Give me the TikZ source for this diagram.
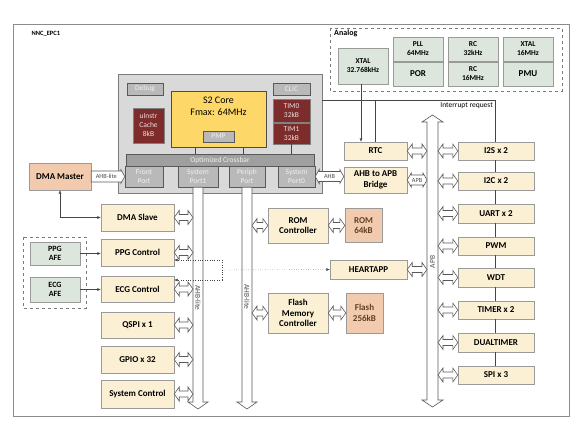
\documentclass[tikz,border=0pt]{standalone}
\usepackage{fontspec}
\setmainfont{Carlito}
\usetikzlibrary{arrows.meta,positioning,calc}
\definecolor{cream}{HTML}{FBF0D4}
\definecolor{peach}{HTML}{F2CBAE}
\definecolor{sage}{HTML}{DDE6DC}
\definecolor{coreyl}{HTML}{FDD868}
\definecolor{brick}{HTML}{7E2B2B}
\definecolor{edge}{HTML}{9A9A9A}
\definecolor{wire}{HTML}{454545}
\begin{document}
\begin{tikzpicture}[x=1pt,y=-1pt,>={Latex[length=3.5pt,width=3pt]},
	sz/.style 2 args={minimum width=#1,minimum height=#2},
	blk/.style={draw=edge,fill=cream,font=\bfseries\fontsize{9}{10.5}\selectfont,align=center,inner sep=0pt},
	mem/.style={blk,fill=peach},
	ana/.style={blk,fill=sage,font=\bfseries\fontsize{7.5}{9}\selectfont},
	gry/.style={draw=gray!70!black,fill=gray!55,text=gray!12,font=\fontsize{7.5}{9}\selectfont,align=center,inner sep=0pt},
	ram/.style={draw=gray,fill=brick,text=white!85!brick,font=\fontsize{7.5}{9}\selectfont,align=center,inner sep=0pt},
	hollow/.style={fill=white,draw=gray!70!black,line width=0.6pt},
	% two headed link, left to right: shaft half width, head half width, head length
	lnk/.style n args={3}{hollow,to path={let \p1=(\tikztostart),\p2=(\tikztotarget) in
		(\x1,\y1) -- (\x1+#3,\y1+#2) -- (\x1+#3,\y1+#1) -- (\x2-#3,\y1+#1) -- (\x2-#3,\y1+#2) -- (\x2,\y1)
		-- (\x2-#3,\y1-#2) -- (\x2-#3,\y1-#1) -- (\x1+#3,\y1-#1) -- (\x1+#3,\y1-#2) -- cycle}},
	lnk/.default={3pt}{7pt}{5pt},
	% one headed link, left to right
	fwd/.style n args={3}{hollow,to path={let \p1=(\tikztostart),\p2=(\tikztotarget) in
		(\x1,\y1+#1) -- (\x2-#3,\y1+#1) -- (\x2-#3,\y1+#2) -- (\x2,\y1)
		-- (\x2-#3,\y1-#2) -- (\x2-#3,\y1-#1) -- (\x1,\y1-#1) -- cycle}},
	% bus going down
	bus/.style n args={3}{hollow,to path={let \p1=(\tikztostart),\p2=(\tikztotarget) in
		(\x1-#1,\y1) -- (\x1-#1,\y2+#3) -- (\x1-#2,\y2+#3) -- (\x1,\y2)
		-- (\x1+#2,\y2+#3) -- (\x1+#1,\y2+#3) -- (\x1+#1,\y1) -- cycle}},
	% bus with heads at both ends, top to bottom
	bbus/.style n args={3}{hollow,to path={let \p1=(\tikztostart),\p2=(\tikztotarget) in
		(\x1,\y1) -- (\x1+#2,\y1-#3) -- (\x1+#1,\y1-#3) -- (\x1+#1,\y2+#3) -- (\x1+#2,\y2+#3) -- (\x1,\y2)
		-- (\x1-#2,\y2+#3) -- (\x1-#1,\y2+#3) -- (\x1-#1,\y1-#3) -- (\x1-#2,\y1-#3) -- cycle}},
	tag/.style={font=\fontsize{6.3}{7}\selectfont,inner sep=0.5pt,text=gray!60!black},
	btag/.style={tag,font=\fontsize{7.5}{8}\selectfont}]
	\useasboundingbox (0,0) rectangle (582,429);
	% outer frame and analog part
	\draw[edge!90!black,line width=0.8pt] (13,24) rectangle (569,416);
	\node[anchor=west,font=\bfseries\fontsize{6.5}{7}\selectfont] (title) at (28,34) {NNC\_EPC1};
	\draw[dashed,edge!80!black,line width=0.7pt] (330,28) rectangle (562,91);
	\node[anchor=north west,font=\bfseries\fontsize{8}{9}\selectfont,inner sep=1pt] (analog) at (333,29) {Analog};
	\node[ana,sz={50}{36}] (xtal32) at (363,66) {XTAL\\32.768kHz};
	\node[ana,sz={50}{24}] (pll) at (418,49) {PLL\\64MHz};
	\node[ana,sz={50}{24},font=\bfseries\fontsize{9}{10}\selectfont] (por) at (418,74) {POR};
	\node[ana,sz={50}{24}] (rc32) at (473,49) {RC\\32kHz};
	\node[ana,sz={50}{24}] (rc16) at (473,74) {RC\\16MHz};
	\node[ana,sz={50}{24}] (xtal16) at (528,49) {XTAL\\16MHz};
	\node[ana,sz={50}{24},font=\bfseries\fontsize{9}{10}\selectfont] (pmu) at (528,74) {PMU};
	% cpu subsystem
	\node[draw=edge!80!black,fill=gray!30,line width=0.8pt,sz={204}{119}] (cpu) at (220,133.5) {};
	\node[gry,sz={36}{12}] (dbg) at (145,89) {Debug};
	\node[draw=gray!60!black,fill=coreyl,sz={95}{56}] (core) at (218.5,119) {};
	\node[font=\fontsize{10}{12}\selectfont,align=center,below=3pt of core.north] (coretxt) {S2 Core\\Fmax: 64MHz};
	\node[gry,sz={31}{11}] (pmp) at (218.5,136.5) {PMP};
	\node[ram,sz={31}{35}] (cache) at (148.5,125.5) {uInstr\\Cache\\8kB};
	\node[gry,sz={37}{12}] (clic) at (291.5,89) {CLIC};
	\node[ram,sz={37}{23}] (tim0) at (291.5,111) {TIM0\\32kB};
	\node[ram,sz={37}{21}] (tim1) at (291.5,133.5) {TIM1\\32kB};
	\node[gry,fill=gray!75,sz={188}{12}] (xbar) at (220,160) {Optimized Crossbar};
	\node[gry,sz={38}{21}] (fport) at (144,176.5) {Front\\Port};
	\node[gry,sz={40}{21}] (sp1) at (198,176.5) {System\\Port1};
	\node[gry,sz={36}{21}] (pport) at (247,176.5) {Periph\\Port};
	\node[gry,sz={37}{21}] (sp0) at (296.5,176.5) {System\\Port0};
	\draw[wire] ([xshift=-23.5pt]core.south) -- ([xshift=-23.5pt]core.south |- xbar.north);
	\draw[wire] ([xshift=24.5pt]core.south) -- ([xshift=24.5pt]core.south |- xbar.north);
	\draw[wire] (tim1.south) -- (tim1.south |- xbar.north);
	% left side
	\node[mem,sz={62}{27}] (dmam) at (60,176.5) {DMA Master};
	\draw[fwd={5.5pt}{7pt}{4pt}] (dmam.east) to (fport.west);
	\node[tag] (ahbl) at ($(dmam.east)!0.45!(fport.west)$) {AHB-lite};
	\node[blk,sz={73}{27}] (dmas) at (137.5,217.5) {DMA Slave};
	\node[blk,sz={73}{27}] (ppgc) at (137.5,252.5) {PPG Control};
	\node[blk,sz={73}{26}] (ecgc) at (137.5,289) {ECG Control};
	\node[blk,sz={73}{26}] (qspi) at (137.5,325) {QSPI x 1};
	\node[blk,sz={73}{27}] (gpio) at (137.5,359.5) {GPIO x 32};
	\node[blk,sz={73}{28}] (sysc) at (137.5,394) {System Control};
	\draw[<->,wire] (dmam.south) |- (dmas.west);
	\draw[dashed,edge!80!black,line width=0.7pt] (23,237) rectangle (86,308);
	\node[ana,sz={50}{23},font=\bfseries\fontsize{8}{9}\selectfont] (ppga) at (55,253.5) {PPG\\AFE};
	\node[ana,sz={50}{25},font=\bfseries\fontsize{8}{9}\selectfont] (ecga) at (55,289.5) {ECG\\AFE};
	\draw[->,wire] (ppga) -- (ppga -| ppgc.west);
	\draw[->,wire] (ecga) -- (ecga -| ecgc.west);
	% AHB-lite buses
	\coordinate (b1) at (198,409);
	\coordinate (b2) at (247,409);
	\coordinate (b1w) at (193,0);
	\coordinate (b2e) at (252,0);
	\draw[bus={5pt}{10pt}{7pt}] (sp1.south) to (b1);
	\draw[bus={5pt}{10pt}{7pt}] (pport.south) to (b2);
	\node[btag,rotate=-90] (b1txt) at (198,298) {AHB-lite};
	\node[btag,rotate=-90] (b2txt) at (247,297) {AHB-lite};
	\foreach \blkname in {dmas,ppgc,ecgc,qspi,gpio,sysc}
		\draw[lnk] (\blkname.east) to (\blkname.east -| b1w);
	% memories
	\node[blk,sz={60}{35}] (romc) at (298,225.5) {ROM\\Controller};
	\node[mem,sz={37}{34},text=brown!50!black] (rom) at (363.5,225.5) {ROM\\64kB};
	\node[blk,sz={60}{40}] (flc) at (298,313) {Flash\\Memory\\Controller};
	\node[mem,sz={37}{40},text=brown!50!black] (fl) at (364.5,313) {Flash\\256kB};
	\draw[lnk] (romc.west -| b2e) to (romc.west);
	\draw[lnk] (flc.west -| b2e) to (flc.west);
	\draw[lnk] (romc.east) to (rom.west);
	\draw[lnk] (flc.east) to (fl.west);
	% APB side
	\node[blk,sz={63}{18}] (rtc) at (375.5,151) {RTC};
	\node[blk,sz={63}{26}] (bridge) at (375.5,180) {AHB to APB\\Bridge};
	\node[blk,sz={77}{19}] (heart) at (368.5,269.5) {HEARTAPP};
	\coordinate (apbt) at (432.5,115);
	\coordinate (apbb) at (432.5,407);
	\coordinate (apbl) at (427,0);
	\coordinate (apbr) at (438,0);
	\draw[bbus={5.5pt}{10.5pt}{7pt}] (apbt) to (apbb);
	\node[btag,rotate=90] (apbtxt) at (432.5,262) {APB};
	\draw[lnk={5pt}{7pt}{4pt}] (sp0.east) to (sp0.east -| bridge.west);
	\node[tag] (ahbtxt) at ($(sp0.east)!0.5!(sp0.east -| bridge.west)$) {AHB};
	\draw[lnk={5pt}{7pt}{4pt}] (bridge.east) to (bridge.east -| apbl);
	\node[tag] (apbtag) at ($(bridge.east)!0.5!(bridge.east -| apbl)$) {APB};
	\draw[lnk] (rtc.east) to (rtc.east -| apbl);
	\draw[lnk] (heart.east) to (heart.east -| apbl);
	\node[blk,sz={76}{18.5}] (i2s) at (496,151) {I2S x 2};
	\node[blk,sz={76}{18.5}] (i2c) at (496,181) {I2C x 2};
	\node[blk,sz={76}{18.5}] (uart) at (496,213.5) {UART x 2};
	\node[blk,sz={76}{18.5}] (pwm) at (496,246) {PWM};
	\node[blk,sz={76}{18.5}] (wdt) at (496,277.5) {WDT};
	\node[blk,sz={76}{18.5}] (timer) at (496,310) {TIMER x 2};
	\node[blk,sz={76}{18.5}] (dual) at (496,342.5) {DUALTIMER};
	\node[blk,sz={76}{18.5}] (spi) at (496,375) {SPI x 3};
	\foreach \blkname in {i2s,i2c,uart,pwm,wdt,timer,dual,spi}
		\draw[lnk] (\blkname.west -| apbr) to (\blkname.west);
	% interrupt request and clock
	\coordinate (irq) at (495,100);
	\draw[wire] (cpu.east |- irq) -- (irq) -- (i2s.north -| irq);
	\foreach \a/\b in {i2s/i2c,i2c/uart,uart/pwm,pwm/wdt,wdt/timer,timer/dual,dual/spi}
		\draw[wire] (\a.south -| irq) -- (\b.north -| irq);
	\node[anchor=north east,font=\fontsize{7.5}{8}\selectfont,inner sep=1pt] (irqtxt) at ([xshift=-1pt,yshift=-1pt]irq) {Interrupt request};
	\draw[wire] (rtc.north) -- (rtc.north |- irq);
	\draw[->,wire] ([xshift=-2pt]xtal32.south) -- ([xshift=-2pt]xtal32.south |- rtc.north);
	% heartapp signals
	\coordinate (dmid) at (222,270);
	\coordinate (dtop) at (222,260);
	\coordinate (dbot) at (222,280);
	\draw[dotted,->,wire] (dmid) -- (heart.west);
	\draw[dotted,wire] (dtop) -- (dbot);
	\draw[dotted,->,wire] (dtop) -- (dtop -| ppgc.east);
	\draw[dotted,->,wire] (dbot) -- (dbot -| ecgc.east);
\end{tikzpicture}
\end{document}
